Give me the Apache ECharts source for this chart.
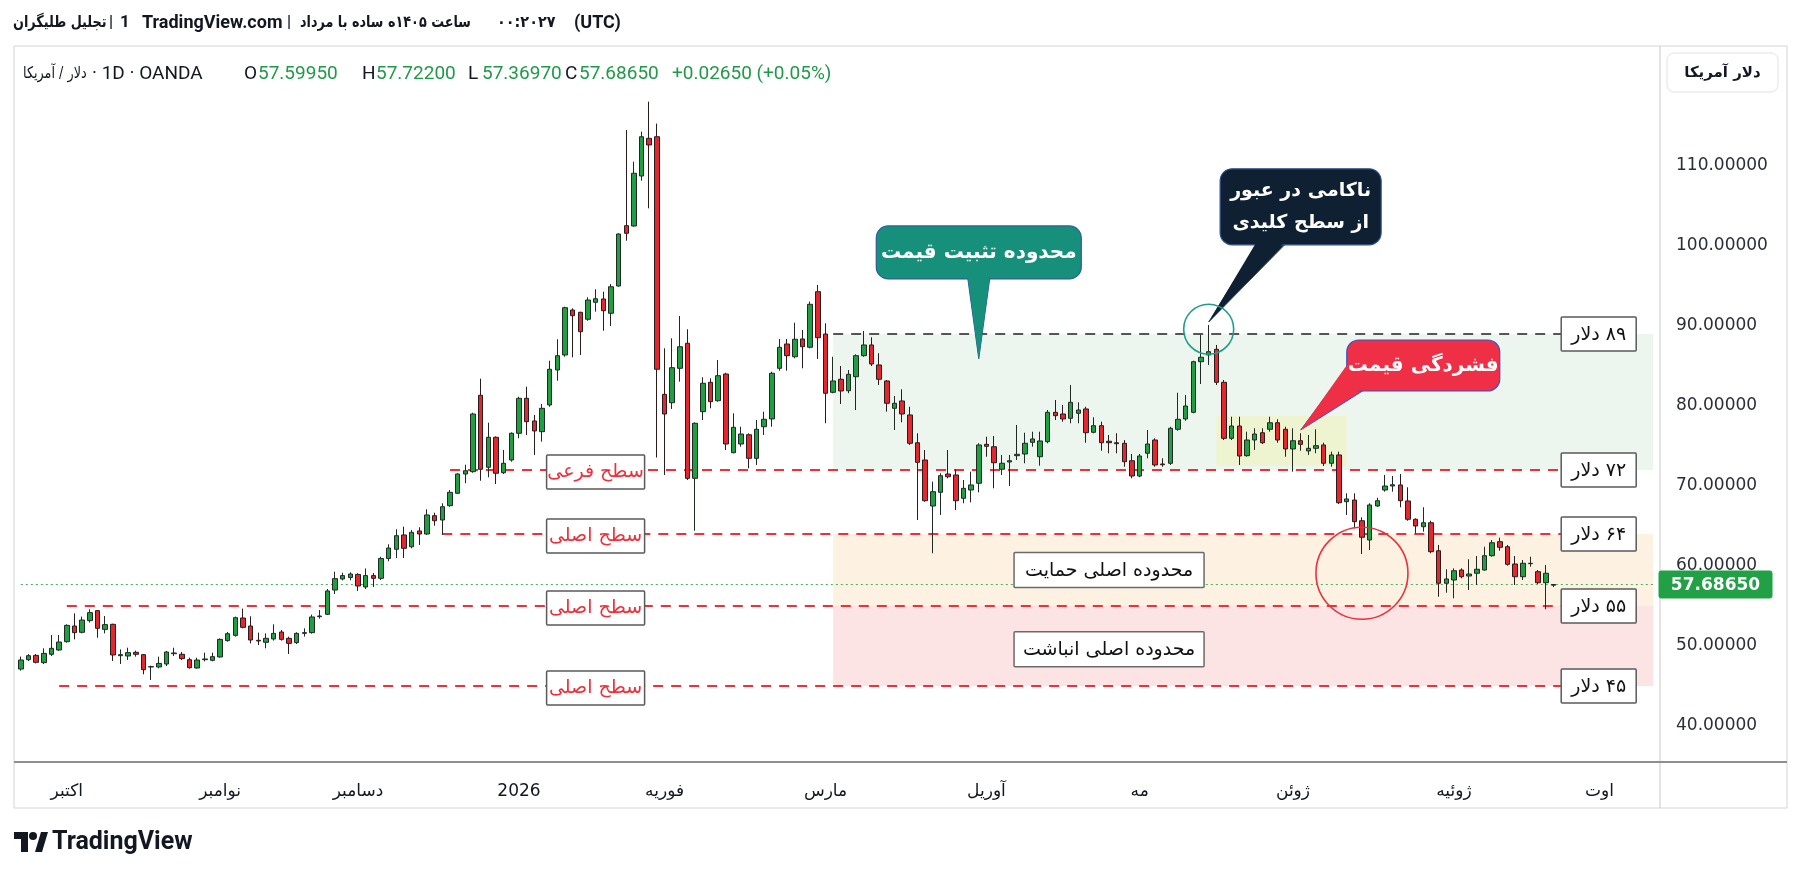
<!DOCTYPE html>
<html><head><meta charset="utf-8">
<script src="https://cdn.jsdelivr.net/npm/echarts@6/dist/echarts.min.js"></script>
<style>html,body{margin:0;padding:0;background:#fff}#c{width:1802px;height:873px}</style>
</head><body><div id="c"></div>
<script>
// ---------- data ----------
const openV = [47.12,48.29,48.83,47.92,48.96,49.5,50.54,52.5,51.71,53.17,54.42,52.08,52.71,48.79,48.75,49.21,48.92,47.38,47.38,47.75,49.04,48.96,48.29,47.25,48.29,48.21,48.63,50.67,51.33,53.5,52.5,50.71,50.46,50.88,51.75,50.96,50.42,51.58,51.67,53.67,53.96,57.0,58.38,58.56,58.95,57.38,58.8,58.46,60.94,62.09,63.88,62.41,64.38,64.0,66.29,65.75,67.54,69.09,71.5,71.79,81.34,72.34,76.09,71.66,73.25,76.59,80.96,78.13,76.79,80.13,84.5,86.38,92.0,91.71,90.84,92.96,93.38,91.59,95.0,102.54,102.5,108.75,113.46,113.66,81.46,80.41,84.71,87.84,70.96,79.29,82.96,80.66,84.0,74.16,75.25,76.41,73.46,77.41,78.38,84.71,87.75,86.16,88.38,87.34,94.29,89.0,81.71,83.34,81.91,83.66,86.29,87.63,85.13,83.13,79.71,80.63,78.88,75.41,73.25,67.5,69.21,71.5,71.38,68.46,69.5,70.34,75.21,74.91,72.09,73.0,73.79,74.0,75.46,73.66,75.54,79.21,79.0,78.46,79.09,79.63,76.71,77.54,75.59,75.41,75.34,73.16,71.25,74.09,75.75,72.75,72.84,77.09,78.38,79.21,85.54,86.38,87.09,82.96,75.96,77.5,73.79,75.75,76.66,77.09,77.91,77.09,74.63,75.66,74.38,74.71,75.13,72.84,73.88,68.04,68.25,65.66,63.25,67.5,69.5,70.0,70.13,68.13,65.84,64.91,65.41,61.91,57.84,58.25,59.5,58.75,59.09,59.5,61.29,63.04,62.41,60.25,58.66,60.29,59.29,57.91,57.5995];
const closeV = [48.25,48.79,47.96,49.08,49.71,50.5,52.58,51.67,53.25,54.17,52.21,52.67,48.88,48.92,49.17,48.96,47.04,47.42,47.83,49.25,49.13,48.42,47.29,48.25,48.38,48.67,50.83,51.54,53.54,52.33,50.75,50.63,50.96,51.58,50.83,50.33,51.58,51.67,53.63,53.75,56.88,58.42,58.8,59.0,57.5,58.8,58.46,60.94,62.25,63.79,62.21,64.21,64.0,66.38,65.66,67.41,69.21,71.5,71.91,79.0,72.09,76.09,71.59,72.84,76.59,80.96,78.04,76.88,79.71,84.59,86.29,92.29,91.29,89.29,93.25,93.41,91.91,94.91,101.5,101.59,109.09,113.66,112.63,84.59,79.0,84.79,87.41,70.96,77.84,82.84,80.54,83.79,75.25,77.34,76.5,73.46,77.09,78.34,84.09,87.34,86.29,88.34,87.41,92.71,88.54,81.59,83.13,81.88,83.96,86.29,87.63,85.25,83.34,80.34,80.34,79.0,75.34,72.96,68.16,69.29,71.29,71.16,68.16,69.71,70.13,75.13,74.96,72.91,72.84,73.16,73.96,75.34,75.88,75.63,79.21,78.79,78.38,80.46,79.5,76.66,77.54,75.41,75.41,75.29,73.04,71.25,73.75,75.25,72.63,72.66,77.21,78.34,80.0,85.54,86.09,86.79,82.96,75.96,77.5,73.75,75.75,76.5,75.41,77.91,75.75,74.63,75.66,75.21,74.71,75.04,72.84,73.88,67.91,68.38,65.54,63.59,67.63,68.16,70.0,70.16,68.16,65.84,65.0,65.41,61.79,57.84,58.38,59.41,58.66,59.0,59.59,61.29,62.91,62.34,60.21,58.66,60.34,60.34,57.91,59.09,57.6865];
const highV = [48.67,49.0,49.0,49.71,51.38,51.38,52.71,54.08,53.67,54.58,54.5,53.75,52.79,49.58,49.79,49.42,49.0,47.54,48.67,49.38,49.79,49.25,48.54,48.54,49.17,49.17,50.96,51.75,53.67,54.67,53.71,51.67,51.58,52.71,52.0,51.17,51.71,52.21,53.92,54.5,57.13,59.29,59.16,59.2,59.1,59.69,59.13,61.16,62.71,64.59,64.91,64.5,64.84,67.09,66.66,67.84,69.5,71.59,72.66,79.16,83.41,77.91,76.2,74.5,76.7,81.16,82.41,78.88,80.25,85.66,88.34,92.41,92.21,91.79,93.59,94.59,94.29,95.25,101.59,114.5,110.54,114.29,118.04,115.3,87.21,88.46,91.25,89.59,77.95,83.59,83.46,85.75,84.16,79.09,77.41,76.59,78.25,79.29,84.29,88.38,88.38,90.41,89.5,93.04,95.13,90.34,86.16,85.0,84.5,86.46,89.38,88.59,86.59,83.25,81.25,82.09,79.91,76.59,74.5,70.54,71.59,74.5,72.09,70.75,71.79,75.34,76.16,76.25,73.88,73.88,77.63,76.66,76.79,76.79,79.5,80.75,80.13,82.63,80.46,79.91,78.59,78.04,76.38,76.59,75.75,74.0,74.0,77.0,75.96,73.46,77.41,81.66,81.38,85.66,88.88,90.13,87.63,83.25,78.66,78.66,76.79,77.21,77.21,78.66,78.34,77.41,77.21,76.59,76.38,77.09,75.41,74.29,74.29,69.09,69.09,66.09,67.84,68.54,71.38,71.25,71.5,69.84,65.96,67.34,65.66,62.63,59.59,59.71,59.71,60.84,61.25,62.41,63.25,63.54,62.63,61.25,60.75,61.16,59.5,60.13,57.722];
const lowV = [46.92,48.12,47.83,47.75,48.75,49.38,50.42,50.83,51.58,52.92,51.04,51.58,48.12,47.75,48.25,48.67,46.46,45.75,47.21,47.5,48.75,48.25,47.17,47.17,48.08,48.08,48.54,50.54,51.17,52.21,50.33,50.13,49.71,50.67,50.67,49.0,50.25,51.17,51.54,53.42,53.88,56.5,58.2,58.21,56.88,57.13,57.38,58.25,60.59,61.0,61.0,62.21,62.63,63.88,65.04,63.88,67.41,69.0,70.34,71.66,70.66,71.09,70.25,71.5,73.04,75.96,76.38,73.88,75.54,79.91,83.16,86.16,86.09,86.38,90.66,91.79,89.41,90.0,94.91,100.66,102.41,108.16,104.71,73.56,71.38,79.63,83.04,70.75,64.41,78.25,79.71,80.54,74.5,74.09,74.91,72.21,72.63,76.38,77.41,84.41,84.41,85.96,84.71,87.21,85.88,77.84,81.59,80.25,81.59,79.5,86.16,85.0,82.63,79.29,77.0,77.96,75.13,65.75,68.04,61.59,66.38,70.96,67.0,67.84,67.96,69.21,73.66,69.71,71.38,70.0,73.25,72.84,74.91,72.54,75.34,78.25,78.04,77.84,77.84,75.41,76.59,74.41,74.09,74.09,72.41,70.96,71.09,73.46,72.41,72.41,72.63,76.91,78.16,79.09,82.75,85.13,82.63,75.75,75.75,72.63,73.66,74.5,75.25,76.79,75.41,73.66,71.79,74.41,73.88,74.09,72.5,72.41,67.75,66.38,64.71,61.5,62.0,67.41,69.29,69.29,67.34,65.66,64.09,64.29,61.59,56.16,56.66,55.96,58.46,57.0,57.63,59.41,61.16,61.91,60.04,57.63,58.25,59.91,57.75,54.59,57.3697];

const slotCount = 214;                       // candles + empty space on the right
const tickIndex = [6, 26, 44, 65, 84, 105, 126, 146, 166, 187, 206];
const tickText  = ['اکتبر','نوامبر','دسامبر','2026','فوریه','مارس','آوریل','مه','ژوئن','ژوئیه','اوت'];
const yTickValues = [40, 50, 60, 70, 80, 90, 100, 110, 120];

const levelValues = [89, 72, 64, 55, 45];
const levelTexts  = ['۸۹ دلار','۷۲ دلار','۶۴ دلار','۵۵ دلار','۴۵ دلار'];
const levelStart  = [106, 56, 55, 6, 5];
const levelEnd    = 201;
const sideLabels  = [null, 'سطح فرعی', 'سطح اصلی', 'سطح اصلی', 'سطح اصلی'];

const lastPrice = 57.6865;
const changeText = '+0.02650 (+0.05%)';

// ---------- chart ----------
const categories = Array.from({length: slotCount}, (_, i) => String(i));
const candles = openV.map((o, i) => [o, closeV[i], lowV[i], highV[i]]);
const tickMap = {};
tickIndex.forEach((t, k) => tickMap[t] = tickText[k]);
const nulls = categories.map(() => null);

const FA = '"DejaVu Sans"';
const RED = '#ef2f3a';

const chart = echarts.init(document.getElementById('c'), null, {renderer: 'canvas', width: 1802, height: 873});

const option = {
  animation: false,
  backgroundColor: '#ffffff',
  grid: {left: 17, top: 46, width: 1640, height: 716},
  xAxis: {
    type: 'category', data: categories, boundaryGap: true,
    axisLine: {show: false}, axisTick: {show: false}, splitLine: {show: false},
    axisLabel: {
      interval: 0, margin: 21, color: '#131722', fontFamily: FA, fontSize: 17,
      formatter: (v, i) => tickMap[i] !== undefined ? tickMap[i] : ''
    }
  },
  yAxis: {
    type: 'value', position: 'right', min: 35.5, max: 125, splitNumber: 9,
    axisLine: {show: false}, axisTick: {show: false}, splitLine: {show: false},
    axisLabel: {margin: 19, color: '#2a2e39', fontFamily: FA, fontSize: 17,
      customValues: yTickValues, showMinLabel: true, showMaxLabel: true,
      formatter: v => Number(v).toFixed(5)}
  },
  series: [
    {
      type: 'line', data: nulls, z: 1, silent: true, showSymbol: false,
      markArea: {silent: true, data: [
        [{coord: [106, 89], itemStyle: {color: '#ecf6ee'}}, {coord: [213, 72]}],
        [{coord: [106, 64], itemStyle: {color: '#fdf1e2'}}, {coord: [213, 55]}],
        [{coord: [106, 55], itemStyle: {color: '#fce4e5'}}, {coord: [213, 45]}],
        [{coord: [156, 78.75], itemStyle: {color: '#eff4d0'}}, {coord: [173, 72.5]}]
      ]}
    },
    {
      type: 'line', data: nulls, z: 3, silent: true, showSymbol: false,
      markLine: {silent: true, symbol: ['none', 'none'], label: {show: false},
        data: levelValues.map((v, k) => [
          {coord: [levelStart[k], v], lineStyle: {color: k === 0 ? '#555' : RED, width: 2, type: [10, 8]}},
          {coord: [levelEnd, v]}
        ]).concat([[{coord: [0, lastPrice], lineStyle: {color: '#46b25f', width: 1, type: [2, 3]}}, {coord: [slotCount - 1, lastPrice]}]])
      }
    },
    {
      type: 'candlestick', data: candles, z: 5, barWidth: 5,
      itemStyle: {color: '#1f9e42', color0: '#e6262e', borderColor: '#1f2a22', borderColor0: '#2b1c1c', borderWidth: 1}
    }
  ]
};
chart.setOption(option);

// ---------- annotations (placed from data coordinates) ----------
const px = (i, v) => chart.convertToPixel({gridIndex: 0}, [i, v]);
const G = [];
function rect(x, y, w, h, fill, stroke, lw, r, z) {
  G.push({type: 'rect', z: z || 100, shape: {x, y, width: w, height: h, r: r || 0}, style: {fill, stroke, lineWidth: lw || 1}});
}
function text(x, y, s, font, fill, align, z, sx) {
  G.push({type: 'text', z: z || 101, x, y, scaleX: sx || 1, style: {text: s, font, fill, textAlign: align || 'center', textVerticalAlign: 'middle'}});
}
const RLM = '\u200F';

// frame
rect(14, 46, 1773, 762, null, '#d4d4d4', 1, 0, 90);
G.push({type: 'line', z: 91, shape: {x1: 1660, y1: 46, x2: 1660, y2: 808}, style: {stroke: '#c8c8c8', lineWidth: 1}});
G.push({type: 'line', z: 91, shape: {x1: 14, y1: 762, x2: 1787, y2: 762}, style: {stroke: '#8e8e8e', lineWidth: 2}});

// level boxes on the right and side labels on the left
levelValues.forEach((v, k) => {
  const p = px(levelEnd, v);
  rect(p[0], p[1] - 17, 75, 34, '#ffffff', '#5a5a5a', 1.5, 1);
  text(p[0] + 37.5, p[1] + 1, RLM + levelTexts[k], '19px ' + FA, '#111', 'center');
  if (sideLabels[k]) {
    const q = px(75, v);
    rect(q[0] - 49, q[1] - 15, 98, 34, '#ffffff', '#5a5a5a', 1.5, 1);
    text(q[0], q[1] + 2, sideLabels[k], '19px ' + FA, RED, 'center');
  }
});

// zone captions
[[59.5, 'محدوده اصلی حمایت'], [49.6, 'محدوده اصلی انباشت']].forEach(([v, s]) => {
  const p = px(142, v);
  rect(p[0] - 95, p[1] - 17.5, 190, 35, '#ffffff', '#6a6a6a', 1.5, 1);
  text(p[0], p[1] + 1, s, '19px ' + FA, '#111', 'center');
});

// callouts
function callout(center, tip, w, h, fill, stroke, base, s, font, lh) {
  const [cx, cy] = center;
  G.push({type: 'polygon', z: 99, shape: {points: [[cx + base[0][0], cy + base[0][1]], tip, [cx + base[1][0], cy + base[1][1]]]}, style: {fill, stroke, lineWidth: 1}});
  rect(cx - w / 2, cy - h / 2, w, h, fill, stroke, 1.2, 12, 100);
  G.push({type: 'polygon', z: 100, shape: {points: [[cx + base[0][0], cy + base[0][1] - 3], tip, [cx + base[1][0], cy + base[1][1] - 3]]}, style: {fill}});
  G.push({type: 'text', z: 101, x: cx, y: cy, style: {text: s, font, fill: '#ffffff', textAlign: 'center', textVerticalAlign: 'middle', lineHeight: lh || 30}});
}
callout(px(125, 99.2), px(125, 85.9), 205, 53, '#17907b', '#2b5d9a', [[-11, 26], [11, 26]], 'محدوده تثبیت قیمت', 'bold 20px ' + FA);
callout(px(167, 104.9), px(155, 90.5), 161, 76, '#0e2031', '#2e4f8c', [[-44, 38], [-16, 38]], 'ناکامی در عبور\nاز سطح کلیدی', 'bold 19px ' + FA, 32);
callout(px(183, 85.06), px(167, 77.0), 153, 51, '#ee2f46', '#3d52c0', [[-76, 2], [-60, 25]], 'فشردگی قیمت', 'bold 20px ' + FA);

// circles
const gc = px(155, 89.6);
G.push({type: 'circle', z: 102, shape: {cx: gc[0], cy: gc[1], r: 25}, style: {fill: null, stroke: '#1e9e88', lineWidth: 1.6}});
const rc = px(175, 59.1);
G.push({type: 'circle', z: 102, shape: {cx: rc[0], cy: rc[1], r: 46}, style: {fill: null, stroke: '#e8323c', lineWidth: 1.6}});

// last price label on the axis
const lp = px(0, lastPrice);
rect(1659, lp[1] - 13.5, 113, 27, '#22a046', '#22a046', 1, 2, 120);
text(1715.5, lp[1] + 1, lastPrice.toFixed(5), 'bold 17px ' + FA, '#ffffff', 'center', 121);

// axis currency tag
rect(1667, 53, 111, 39, '#ffffff', '#e2e2e2', 1, 7, 120);
text(1722.5, 73, 'دلار آمریکا', 'bold 15px ' + FA, '#131722', 'center', 121);

// header line
text(13, 23, 'تجلیل طلیگران', 'bold 16px ' + FA, '#131722', 'left', 101, 0.8);
text(109, 23, '|', 'bold 16px Roboto', '#131722', 'left');
text(120, 23, '1', 'bold 17px Roboto', '#131722', 'left');
text(142, 23, 'TradingView.com', 'bold 18px Roboto', '#131722', 'left');
text(287, 23, '|', 'bold 16px Roboto', '#131722', 'left');
text(300, 23, RLM + 'ساعت ۱۴۰۵ه ساده با مرداد', 'bold 16px ' + FA, '#131722', 'left', 101, 0.8);
text(497, 23, '۰۰:۲۰۲۷', 'bold 16px ' + FA, '#131722', 'left', 101, 0.9);
text(574, 23, '(UTC)', 'bold 18px Roboto', '#131722', 'left');

// legend line
const last = openV.length - 1;
const GREEN = '#1f9a48';
text(23, 74, 'دلار / آمریکا', '16px ' + FA, '#131722', 'left', 101, 0.8);
text(92, 74, '· 1D · OANDA', '19px Roboto', '#131722', 'left');
const ohlc = [['O', openV[last]], ['H', highV[last]], ['L', lowV[last]], ['C', closeV[last]]];
const ohlcX = [244, 362, 468, 565];
ohlc.forEach(([k, v], j) => {
  text(ohlcX[j], 74, k, '19px Roboto', '#131722', 'left');
  text(ohlcX[j] + 14, 74, v.toFixed(5), '19px Roboto', GREEN, 'left');
});
text(672, 74, changeText, '19px Roboto', GREEN, 'left');

// TradingView logo
rect(14, 832, 14, 7, '#131722', null, 0, 0, 110);
rect(21, 832, 7, 20, '#131722', null, 0, 0, 110);
G.push({type: 'circle', z: 110, shape: {cx: 33, cy: 836, r: 4}, style: {fill: '#131722'}});
G.push({type: 'polygon', z: 110, shape: {points: [[35, 852], [41, 832], [48, 832], [42, 852]]}, style: {fill: '#131722'}});
text(52, 843, 'TradingView', 'bold 25px Roboto', '#131722', 'left', 110);

chart.setOption({graphic: {elements: G}});
</script></body></html>
